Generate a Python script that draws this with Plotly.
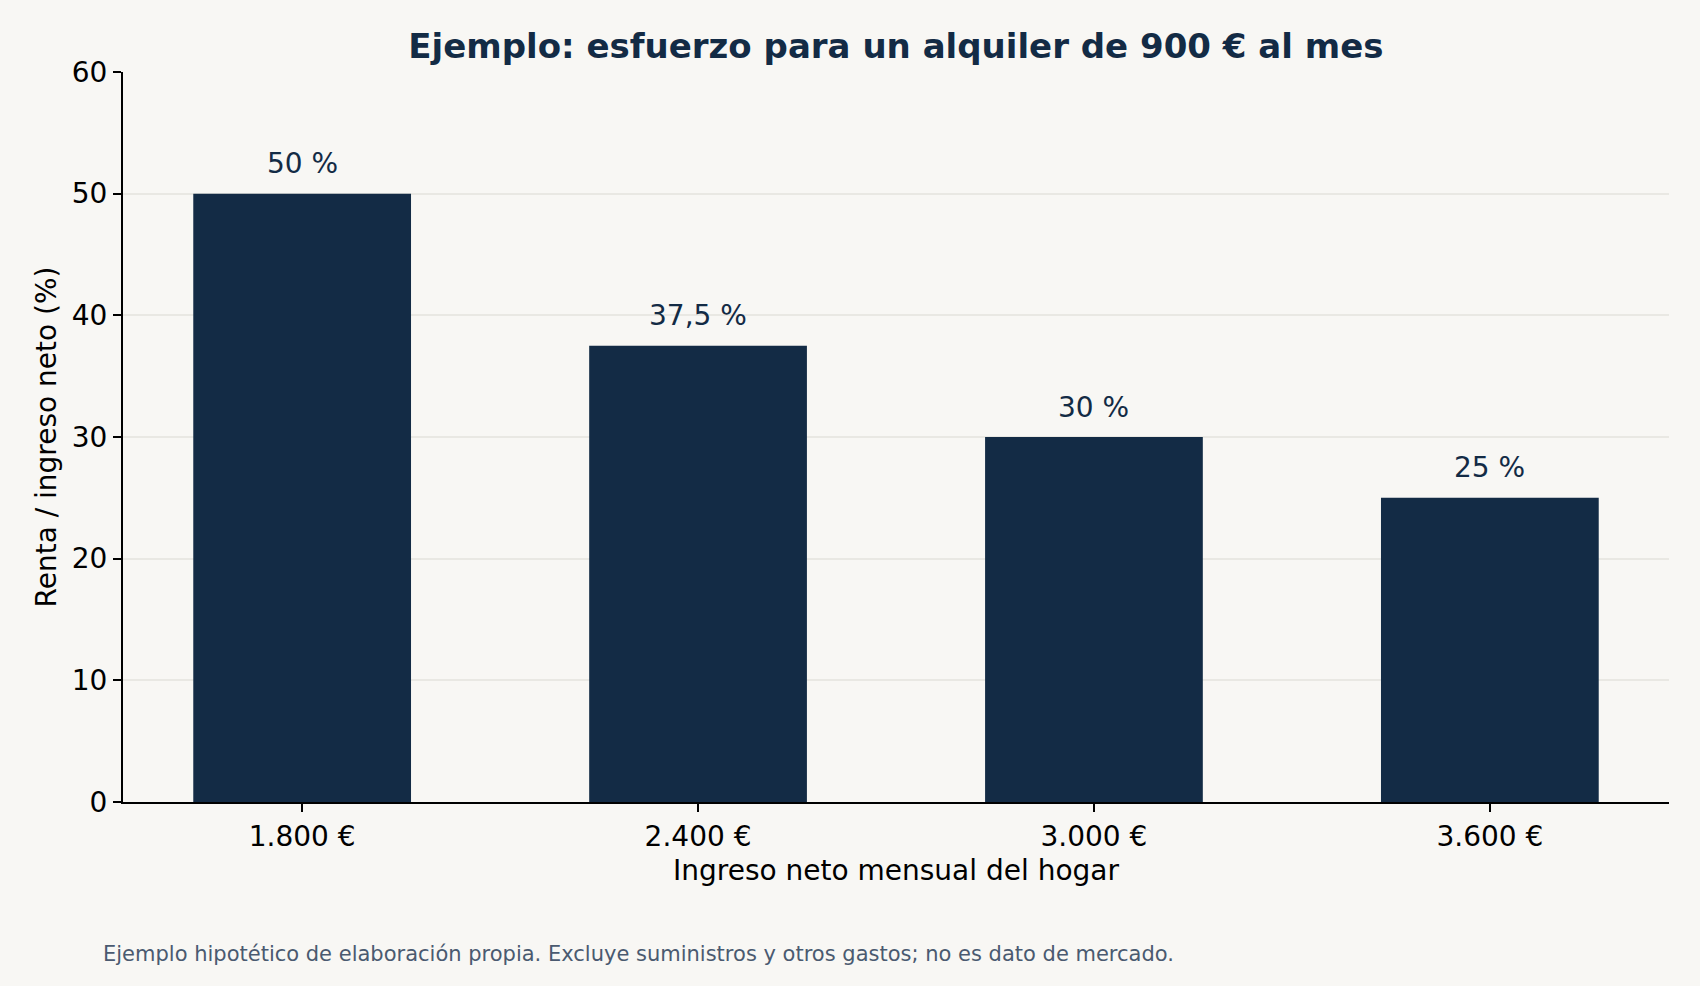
import plotly.graph_objects as go

# Datos del ejemplo
ingresos = ["1.800 €", "2.400 €", "3.000 €", "3.600 €"]
esfuerzo = [50, 37.5, 30, 25]
etiquetas = [f"{v:g}".replace(".", ",") + " %" for v in esfuerzo]
y_ticks = [0, 10, 20, 30, 40, 50, 60]

AZUL = "#132b45"
FONDO = "#f8f7f4"
FUENTE = "DejaVu Sans"

fig = go.Figure()
fig.add_trace(go.Bar(x=ingresos, y=esfuerzo, width=0.55, marker_color=AZUL,
                     marker_line_width=0, hoverinfo="skip"))

# Etiquetas encima de cada barra
for x, y, t in zip(ingresos, esfuerzo, etiquetas):
    fig.add_annotation(x=x, y=y, text=t, showarrow=False, yanchor="middle",
                       yshift=30, font=dict(family=FUENTE, size=28, color=AZUL))

fig.add_annotation(text="Ejemplo hipotético de elaboración propia. Excluye suministros y otros gastos; no es dato de mercado.",
                   xref="paper", yref="paper", x=-0.0145, y=-0.208, xanchor="left", yanchor="middle",
                   showarrow=False, font=dict(family=FUENTE, size=21, color="#4a5a70"))

fig.update_layout(
    width=1700, height=986,
    margin=dict(l=123, r=31, t=72, b=184),
    paper_bgcolor=FONDO, plot_bgcolor=FONDO,
    font=dict(family=FUENTE, size=28, color="black"),
    showlegend=False,
    title=dict(text="<b>Ejemplo: esfuerzo para un alquiler de 900 € al mes</b>",
               x=0.527, xanchor="center", y=1 - 46 / 986, yanchor="middle",
               font=dict(family=FUENTE, size=34, color=AZUL)),
)
fig.update_xaxes(range=[-0.4525, 3.4525], showline=True, linecolor="black", linewidth=2,
                 ticks="outside", ticklen=8, tickwidth=1.5, tickcolor="black",
                 showgrid=False, tickfont=dict(size=28),
                 title=dict(text="Ingreso neto mensual del hogar", standoff=9, font=dict(size=28)))
fig.update_yaxes(range=[0, 60], tickvals=y_ticks, showline=True, linecolor="black", linewidth=2,
                 ticks="outside", ticklen=8, tickwidth=1.5, tickcolor="black",
                 showgrid=True, gridcolor="#e9e8e3", gridwidth=1.5, zeroline=False,
                 tickfont=dict(size=28),
                 title=dict(text="Renta / ingreso neto (%)", standoff=7, font=dict(size=28)))

fig.write_html("out.html", config={"displayModeBar": False},
               post_script="document.body.style.margin='0';")
